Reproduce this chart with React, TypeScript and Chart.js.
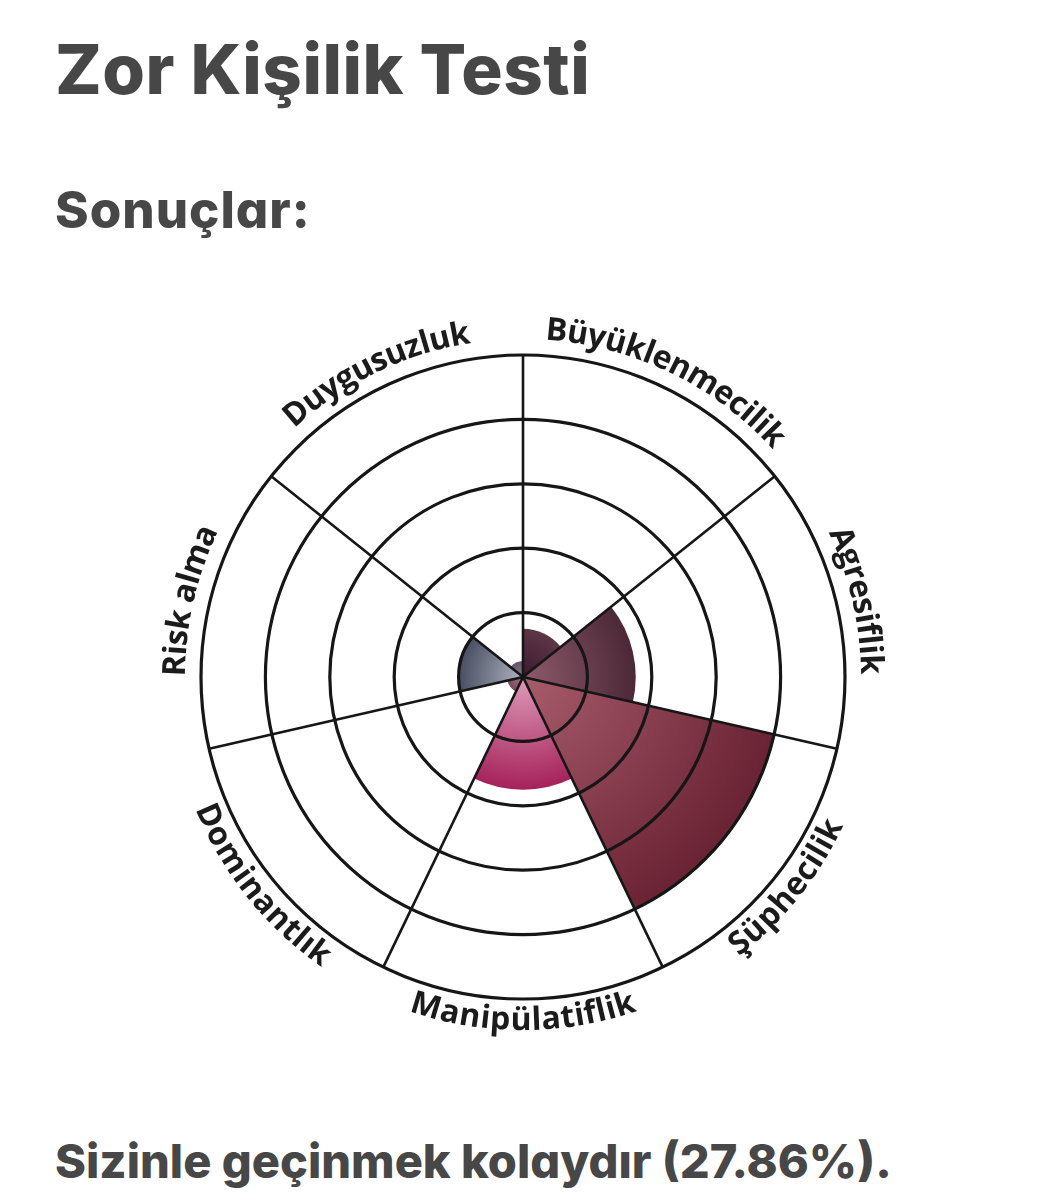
import React, { useEffect, useRef } from "react";
import { Chart, registerables } from "chart.js";

Chart.register(...registerables);

// ---- data ----
const categories = [
  "Büyüklenmecilik",
  "Agresiflik",
  "Şüphecilik",
  "Manipülatiflik",
  "Dominantlık",
  "Risk alma",
  "Duygusuzluk",
];
const scores = [15, 35, 80, 35, 5, 20, 5];
const scaleMin = 0;
const scaleMax = 100;
const scaleStep = 20;

const titleText = "Zor Kişilik Testi";
const subtitleText = "Sonuçlar:";
const resultText = "Sizinle geçinmek kolaydır (27.86%).";

// ---- styles ----
const innerColors = ["#3a1a2b", "#8e5b6b", "#a85c6c", "#de9cba", "#a47484", "#aeb2c0", "#8a7888"];
const outerColors = ["#5e3648", "#4c2837", "#6a2334", "#a6225a", "#7a4a5a", "#494e61", "#64546a"];

const curvedLabels = {
  id: "curvedLabels",
  afterDraw(chart: any) {
    const scale = chart.scales.r;
    const ctx = chart.ctx as CanvasRenderingContext2D;
    const labels: string[] = chart.data.labels;
    const n = labels.length;
    const step = (2 * Math.PI) / n;
    const cx = scale.xCenter;
    const cy = scale.yCenter;
    const R = scale.drawingArea;
    ctx.save();
    ctx.font = "700 32px 'Open Sans'";
    ctx.fillStyle = "#1b1b1b";
    ctx.textAlign = "center";
    ctx.textBaseline = "alphabetic";
    labels.forEach((label, i) => {
      const mid = scale.getIndexAngle(i) + step / 2;
      const norm = ((mid % (2 * Math.PI)) + 2 * Math.PI) % (2 * Math.PI);
      const flip = norm > Math.PI / 2 && norm < (3 * Math.PI) / 2;
      const r = flip ? R + 31 : R + 16;
      const rs = flip ? r - 11 : r + 11;
      const chars = Array.from(label);
      const widths = chars.map((c) => ctx.measureText(c).width);
      const total = widths.reduce((a, b) => a + b, 0);
      let ang = flip ? mid + total / rs / 2 : mid - total / rs / 2;
      chars.forEach((c, k) => {
        const half = widths[k] / 2 / rs;
        ang = flip ? ang - half : ang + half;
        const x = cx + r * Math.sin(ang);
        const y = cy - r * Math.cos(ang);
        ctx.save();
        ctx.translate(x, y);
        ctx.rotate(flip ? ang - Math.PI : ang);
        ctx.fillText(c, 0, 0);
        ctx.restore();
        ang = flip ? ang - half : ang + half;
      });
    });
    ctx.restore();
  },
};

function PolarChart() {
  const ref = useRef<HTMLCanvasElement | null>(null);
  useEffect(() => {
    if (!ref.current) return;
    const makeFill = (i: number) => (context: any) => {
      const chart = context.chart;
      const scale = chart.scales && chart.scales.r;
      if (!scale || scale.xCenter === undefined) return innerColors[i];
      const outer = Math.max(1, scale.getDistanceFromCenterForValue(scores[i]));
      const g = chart.ctx.createRadialGradient(scale.xCenter, scale.yCenter, 0, scale.xCenter, scale.yCenter, outer);
      g.addColorStop(0, innerColors[i]);
      g.addColorStop(1, outerColors[i]);
      return g;
    };
    const chart = new Chart(ref.current, {
      type: "polarArea",
      data: {
        labels: categories,
        datasets: [
          {
            data: scores,
            backgroundColor: (context: any) => makeFill(context.dataIndex)(context),
            borderWidth: 0,
          },
        ],
      },
      options: {
        animation: false,
        responsive: false,
        devicePixelRatio: 1,
        layout: { padding: { left: 201, right: 202, top: 58, bottom: 58 } },
        plugins: { legend: { display: false }, tooltip: { enabled: false } },
        scales: {
          r: {
            min: scaleMin,
            max: scaleMax,
            startAngle: 0,
            ticks: { display: false, stepSize: scaleStep },
            grid: { display: true, circular: true, color: "#161616", lineWidth: 3.2, z: 1 },
            angleLines: { display: true, color: "#161616", lineWidth: 2.6 },
            pointLabels: { display: false },
          },
        },
      } as any,
      plugins: [curvedLabels],
    });
    return () => chart.destroy();
  }, []);
  return (
    <canvas
      ref={ref}
      width={1047}
      height={760}
      style={{ position: "absolute", left: 0, top: 297, width: 1047, height: 760 }}
    />
  );
}

const headingFont = "Inter, 'Noto Sans', sans-serif";

export default function App() {
  const textStyle: React.CSSProperties = {
    position: "absolute",
    left: 55,
    margin: 0,
    fontFamily: headingFont,
    fontWeight: 800,
    color: "#474747",
    lineHeight: 1,
    whiteSpace: "nowrap",
    fontFeatureSettings: "'cv11' 1",
  };
  return (
    <div style={{ position: "absolute", left: 0, top: 0, width: 1047, height: 1200, background: "#ffffff" }}>
      <div style={{ ...textStyle, top: 35, fontSize: 69, letterSpacing: 0.5 }}>{titleText}</div>
      <div style={{ ...textStyle, top: 184, fontSize: 51, letterSpacing: 1 }}>{subtitleText}</div>
      <PolarChart />
      <div style={{ ...textStyle, top: 1137, fontSize: 47 }}>{resultText}</div>
    </div>
  );
}
